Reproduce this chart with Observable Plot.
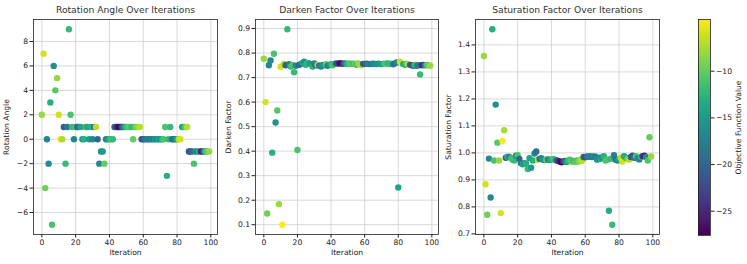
<!DOCTYPE html>
<html><head><meta charset="utf-8">
<script src="https://cdn.jsdelivr.net/npm/d3@7"></script>
<script src="https://cdn.jsdelivr.net/npm/@observablehq/plot@0.6"></script>
<style>
html,body{margin:0;padding:0;background:#fff;}
#chart{position:relative;width:747px;height:264px;overflow:hidden;background:#fff;font-family:"DejaVu Sans",sans-serif;}
#chart > svg{position:absolute;top:0;}
</style></head><body><div id="chart"></div>
<script>
const rotation = [2,7,-4,0,-2,3,-7,6,4,5, 2,0,0,1,-2,1,9,2,1,0, 1,1,1,1,0,0,1,1,0,1, 0,1,1,0,-2,-1,-1,-2,0,0, 0,0,0,1,1,1,1,1,1,1, 1,1,1,1,0,1,1,1,1,0, 0,0,0,0,0,0,0,0,0,0, 0,0,0,1,-3,0,1,0,0,0, 0,0,0,1,1,1,1,-1,-1,-1, -2,-1,-1,-1,-1,-1,-1,-1,-1,-1];
const darken = [0.777,0.600,0.146,0.750,0.770,0.394,0.797,0.517,0.566,0.184, 0.744,0.100,0.756,0.750,0.897,0.755,0.745,0.752,0.722,0.748, 0.405,0.752,0.755,0.760,0.765,0.752,0.760,0.758,0.755,0.745, 0.758,0.750,0.752,0.748,0.745,0.752,0.750,0.755,0.748,0.752, 0.755,0.750,0.756,0.758,0.757,0.758,0.758,0.756,0.758,0.757, 0.756,0.758,0.755,0.757,0.756,0.752,0.758,0.755,0.750,0.756, 0.756,0.757,0.756,0.755,0.756,0.757,0.756,0.755,0.757,0.756, 0.755,0.756,0.757,0.757,0.758,0.755,0.757,0.754,0.758,0.762, 0.252,0.765,0.758,0.755,0.752,0.757,0.755,0.752,0.750,0.748, 0.752,0.748,0.750,0.713,0.750,0.752,0.750,0.752,0.750,0.748];
const saturation = [1.359,0.884,0.771,0.979,0.835,1.458,0.972,1.179,1.038,0.972, 0.777,1.044,1.084,0.982,0.986,0.985,0.980,0.975,0.972,0.990, 0.992,0.978,0.962,0.958,0.962,0.960,0.940,0.980,0.945,0.972, 0.998,1.005,0.975,0.978,0.980,0.975,0.974,0.975,0.976,0.974, 0.976,0.978,0.975,0.972,0.970,0.968,0.965,0.968,0.970,0.966, 0.972,0.975,0.968,0.970,0.966,0.972,0.968,0.975,0.970,0.985, 0.984,0.987,0.986,0.988,0.985,0.987,0.986,0.975,0.982,0.978, 0.984,0.988,0.972,0.975,0.786,0.978,0.734,0.992,0.975,0.972, 0.978,0.982,0.968,0.988,0.982,0.978,0.975,0.985,0.990,0.982, 0.988,0.980,0.976,0.985,0.988,0.990,0.985,0.972,1.058,0.987];
const objective = [-8,-6,-9.5,-17,-16.5,-13,-11,-16,-10.5,-8, -6,-4.46,-7.5,-21,-12,-18,-12,-11,-12,-17, -11,-20,-19,-14,-16,-13,-12,-14,-15,-13, -17,-19,-7,-20,-17,-16,-15,-10,-18,-16, -13,-11,-12,-20,-23,-26,-27.6,-24,-20,-15, -12,-11,-10,-12,-10,-11,-9,-8,-7,-20, -22,-19,-18,-17,-19,-16,-18,-15,-17,-14, -16,-13,-11,-11,-13,-12,-12,-18,-20,-17, -14,-7,-6,-14,-13,-10,-7,-21,-22,-19, -11,-16,-18,-12,-24,-25,-17,-11,-10,-8];
const iterations = rotation.map((_, i) => i);

const xTicks = [0, 20, 40, 60, 80, 100];
const rotTicks = [-6, -4, -2, 0, 2, 4, 6, 8];
const darkTicks = [0.1, 0.2, 0.3, 0.4, 0.5, 0.6, 0.7, 0.8, 0.9];
const satTicks = [0.7, 0.8, 0.9, 1.0, 1.1, 1.2, 1.3, 1.4];
const cbTicks = [-25, -20, -15, -10];
const titles = ["Rotation Angle Over Iterations", "Darken Factor Over Iterations", "Saturation Factor Over Iterations"];
const yLabels = ["Rotation Angle", "Darken Factor", "Saturation Factor"];
const xLabel = "Iteration";
const cbLabel = "Objective Function Value";

const rows = iterations.map(i => ({i, rotation: rotation[i], darken: darken[i], saturation: saturation[i], objective: objective[i]}));
const objDomain = d3.extent(objective);
function pad(vals) { const [a, b] = d3.extent(vals); const m = (b - a) * 0.05; return [a - m, b + m]; }
const chart = document.getElementById("chart");
const txt = "#222";
const gridStyle = {stroke: "#cfcfcf", strokeOpacity: 1, strokeWidth: 0.8};
const baseStyle = {background: "transparent", fontFamily: "'DejaVu Sans', sans-serif", fontSize: "7.6px", fontWeight: "normal", color: txt, overflow: "visible"};

function panel({key, title, label, ticks, fmt, left, width, marginLeft, marginRight}) {
  const svg = Plot.plot({
    width, height: 264, marginLeft, marginRight, marginTop: 19, marginBottom: 30,
    style: baseStyle,
    x: {domain: pad(iterations)},
    y: {domain: pad(rows.map(d => d[key]))},
    color: {type: "linear", scheme: "viridis", domain: objDomain},
    marks: [
      Plot.gridX(xTicks, gridStyle),
      Plot.gridY(ticks, gridStyle),
      Plot.dot(rows, {x: "i", y: key, fill: "objective", r: 3.2}),
      Plot.frame({stroke: txt, strokeWidth: 0.8}),
      Plot.axisX(xTicks, {tickSize: 3.5, tickPadding: 2, tickFormat: d3.format("d"), label: xLabel, labelAnchor: "center", labelArrow: "none", labelOffset: 20}),
      Plot.axisY(ticks, {tickSize: 3.5, tickPadding: 2, tickFormat: fmt, label, labelAnchor: "center", labelArrow: "none", labelOffset: marginLeft - 3}),
      Plot.text([title], {frameAnchor: "top", dy: -9, lineAnchor: "middle", fontSize: 9.2, fontWeight: "normal", fill: "#333"})
    ]
  });
  svg.style.left = left + "px";
  chart.append(svg);
}

panel({key: "rotation", title: titles[0], label: yLabels[0], ticks: rotTicks, fmt: d3.format("d"), left: 0, width: 222, marginLeft: 33, marginRight: 5});
panel({key: "darken", title: titles[1], label: yLabels[1], ticks: darkTicks, fmt: d3.format(".1f"), left: 222, width: 220, marginLeft: 33, marginRight: 4});
panel({key: "saturation", title: titles[2], label: yLabels[2], ticks: satTicks, fmt: d3.format(".1f"), left: 442, width: 225, marginLeft: 33, marginRight: 8});

const [lo, hi] = objDomain;
const n = 200;
const steps = d3.range(n);
const cb = Plot.plot({
  width: 80, height: 264, marginLeft: 31, marginRight: 37, marginTop: 19, marginBottom: 29,
  style: baseStyle,
  x: {domain: [0, 1], axis: null},
  y: {domain: [lo, hi]},
  color: {type: "linear", scheme: "viridis", domain: objDomain},
  marks: [
    Plot.rect(steps, {x1: 0, x2: 1, y1: k => lo + k * (hi - lo) / n, y2: k => lo + (k + 1) * (hi - lo) / n, fill: k => lo + (k + 0.5) * (hi - lo) / n, shapeRendering: "crispEdges"}),
    Plot.frame({stroke: txt, strokeWidth: 0.8}),
    Plot.axisY(cbTicks, {anchor: "right", tickSize: 3.5, tickPadding: 2, tickFormat: d3.format("d"), label: cbLabel, labelAnchor: "center", labelArrow: "none", labelOffset: 30})
  ]
});
cb.style.left = "667px";
chart.append(cb);
</script></body></html>
